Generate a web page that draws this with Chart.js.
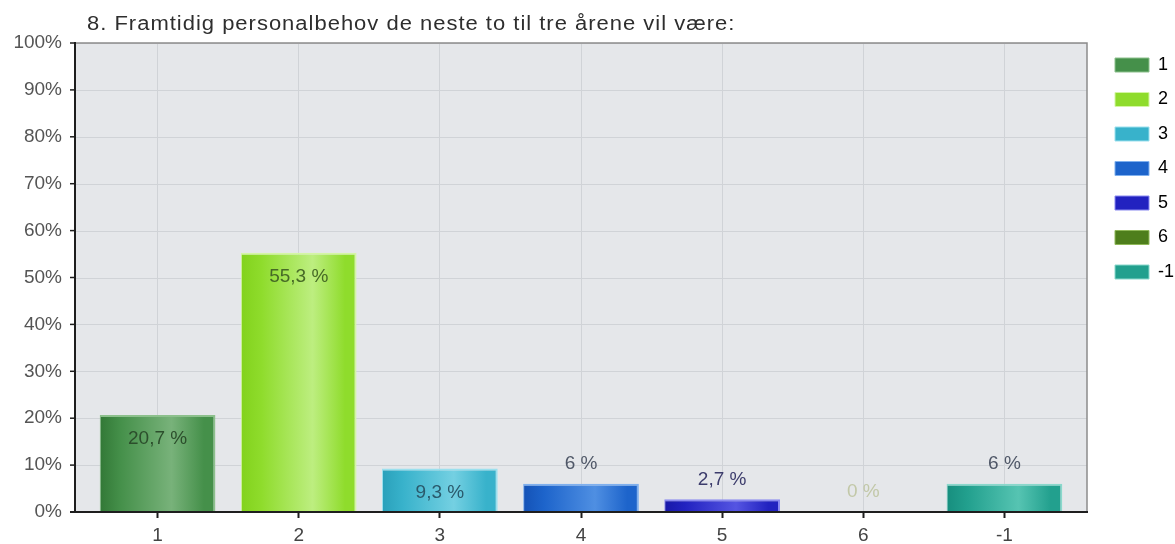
<!DOCTYPE html>
<html>
<head>
<meta charset="utf-8">
<script src="https://cdn.jsdelivr.net/npm/chart.js@4.4.1/dist/chart.umd.min.js"></script>
<style>
  html, body { margin: 0; padding: 0; background: #ffffff; }
  #c { display: block; }
</style>
</head>
<body>
<canvas id="c" width="1175" height="544"></canvas>
<script>
// ---- data ----
const chartTitle = '8. Framtidig personalbehov de neste to til tre årene vil være:';
const categories = ['1', '2', '3', '4', '5', '6', '-1'];
const shares = [20.7, 55.3, 9.3, 6, 2.7, 0, 6];
const yTickStep = 10;
const yMax = 100;

// ---- styles ----
const FONT = '"Liberation Sans", Arial, Helvetica, sans-serif';
const barBase  = ['#45904a', '#8fdc2c', '#38b2cb', '#1d64cb', '#2222c0', '#4e7e1c', '#22a08e'];
const barLight = ['#78b27a', '#bdee80', '#74d0e2', '#4f8fe2', '#5555e2', '#6e9c34', '#56c4b2'];
const barDark  = ['#327836', '#82d21c', '#2aa0ba', '#1452b6', '#1818a8', '#3e6a10', '#178e7e'];
const barEdge  = ['#8cc08c', '#d4f6a4', '#9be0ee', '#7fb0ee', '#8a8af0', '#8fb858', '#8ad8cc'];
const labelInk = ['#2c4e2c', '#466a26', '#2a5a6c', '#505868', '#3c3c6c', '#c2c8a8', '#505868'];
const FRAME_INSET = 12;

function shareText(v) {
  return String(v).replace('.', ',') + ' %';
}

// glossy bar fill: dark edge -> base -> highlight -> base
function barFill(ctx) {
  const i = ctx.dataIndex;
  const chart = ctx.chart;
  const xs = chart.scales && chart.scales.x;
  if (!chart.chartArea || !xs || i === undefined) return barBase[i] || '#888';
  const cx = xs.getPixelForValue(i);
  const half = xs.width / categories.length * 0.82 / 2;
  const g = chart.ctx.createLinearGradient(cx - half, 0, cx + half, 0);
  g.addColorStop(0, barDark[i]);
  g.addColorStop(0.18, barBase[i]);
  g.addColorStop(0.62, barLight[i]);
  g.addColorStop(0.9, barBase[i]);
  g.addColorStop(1, barBase[i]);
  return g;
}

// plot background, horizontal grid and axis frame
const framePlugin = {
  id: 'frame',
  beforeDraw(chart) {
    const { ctx, chartArea: a, scales: { y } } = chart;
    const L = a.left - FRAME_INSET, R = a.right + FRAME_INSET;
    ctx.save();
    ctx.fillStyle = '#e5e7ea';
    ctx.fillRect(L, a.top, R - L, a.bottom - a.top);
    ctx.strokeStyle = '#d0d3d7';
    ctx.lineWidth = 1;
    y.ticks.forEach(t => {
      const py = Math.round(y.getPixelForValue(t.value)) + 0.5;
      ctx.beginPath(); ctx.moveTo(L, py); ctx.lineTo(R, py); ctx.stroke();
    });
    ctx.restore();
  },
  afterDatasetsDraw(chart) {
    const { ctx, chartArea: a, scales: { y } } = chart;
    const L = a.left - FRAME_INSET, R = a.right + FRAME_INSET;
    ctx.save();
    // top and right border
    ctx.strokeStyle = '#8c8c8c';
    ctx.lineWidth = 1.5;
    ctx.beginPath(); ctx.moveTo(L, a.top); ctx.lineTo(R, a.top); ctx.lineTo(R, a.bottom); ctx.stroke();
    // y axis with tick marks
    ctx.strokeStyle = '#1e1e1e';
    ctx.lineWidth = 2;
    ctx.beginPath(); ctx.moveTo(L, a.top - 1); ctx.lineTo(L, a.bottom); ctx.stroke();
    ctx.lineWidth = 1.5;
    y.ticks.forEach(t => {
      const py = y.getPixelForValue(t.value);
      ctx.beginPath(); ctx.moveTo(L - 5, py); ctx.lineTo(L, py); ctx.stroke();
    });
    // x axis line
    ctx.lineWidth = 2;
    ctx.beginPath(); ctx.moveTo(L - 5, a.bottom); ctx.lineTo(R + 1, a.bottom); ctx.stroke();
    ctx.restore();
  }
};

// value labels on the bars
const valueLabels = {
  id: 'valueLabels',
  afterDatasetsDraw(chart) {
    const { ctx } = chart;
    const meta = chart.getDatasetMeta(0);
    ctx.save();
    ctx.font = '19px ' + FONT;
    ctx.textAlign = 'center';
    ctx.textBaseline = 'middle';
    meta.data.forEach((bar, i) => {
      const v = shares[i];
      const inside = v >= 9;
      ctx.fillStyle = labelInk[i];
      ctx.fillText(shareText(v), bar.x, inside ? bar.y + 24 : bar.y - 20);
    });
    ctx.restore();
  }
};

// chart heading
const headingPlugin = {
  id: 'heading',
  afterDraw(chart) {
    const { ctx, chartArea: a } = chart;
    ctx.save();
    ctx.font = '20px ' + FONT;
    ctx.fillStyle = '#2e2e2e';
    ctx.textAlign = 'left';
    ctx.textBaseline = 'alphabetic';
    try { ctx.letterSpacing = '0.9px'; } catch (e) {}
    ctx.translate(a.left, 30);
    ctx.scale(1.1, 1);
    ctx.fillText(chartTitle, 0, 0);
    ctx.restore();
  }
};

const yTickValues = [];
for (let v = 0; v <= yMax; v += yTickStep) yTickValues.push(v);

new Chart(document.getElementById('c'), {
  type: 'bar',
  data: {
    labels: categories,
    datasets: [{
      label: 'Andel',
      data: shares,
      backgroundColor: barFill,
      borderColor: ctx => barEdge[ctx.dataIndex],
      borderWidth: { top: 2, right: 2, left: 1, bottom: 0 },
      borderSkipped: 'bottom',
      barPercentage: 0.82,
      categoryPercentage: 1
    }]
  },
  options: {
    responsive: false,
    animation: false,
    devicePixelRatio: 1,
    layout: { padding: { top: 39.5, left: 0, right: 0, bottom: 0 } },
    plugins: {
      title: { display: false },
      tooltip: { enabled: false },
      legend: {
        display: true,
        position: 'right',
        align: 'start',
        maxWidth: 76.5,
        labels: {
          boxWidth: 34,
          boxHeight: 14,
          padding: 16.5,
          color: '#555555',
          font: { family: FONT, size: 18 },
          generateLabels: () => categories.map((c, i) => ({
            text: c,
            fillStyle: barBase[i],
            strokeStyle: barEdge[i],
            lineWidth: 1,
            hidden: false,
            index: i
          }))
        }
      }
    },
    scales: {
      x: {
        type: 'category',
        offset: true,
        grid: {
          display: true,
          offset: false,
          color: '#d0d3d7',
          lineWidth: 1,
          drawTicks: true,
          tickLength: 6,
          tickColor: '#1e1e1e',
          tickWidth: 2
        },
        border: { display: false },
        ticks: {
          color: '#444444',
          padding: 6,
          font: { family: FONT, size: 19 },
          maxRotation: 0
        },
        afterFit(s) { s.height = 32; }
      },
      xTop: {
        type: 'category',
        position: 'top',
        display: true,
        grid: { display: false, drawTicks: false },
        border: { display: false },
        ticks: { display: false },
        afterFit(s) { s.height = 3.5; }
      },
      y: {
        type: 'linear',
        min: 0,
        max: yMax,
        grid: { display: false, drawTicks: true, tickLength: 25 },
        border: { display: false },
        afterBuildTicks(s) { s.ticks = yTickValues.map(v => ({ value: v })); },
        ticks: {
          stepSize: yTickStep,
          padding: 0,
          color: '#555555',
          font: { family: FONT, size: 19 },
          callback: v => v + '%'
        },
        afterFit(s) { s.width = 87; }
      },
      yRight: {
        type: 'linear',
        position: 'right',
        display: true,
        grid: { display: false, drawTicks: false },
        border: { display: false },
        ticks: { display: false },
        afterFit(s) { s.width = 23.5; }
      }
    }
  },
  plugins: [framePlugin, valueLabels, headingPlugin]
});
</script>
</body>
</html>
